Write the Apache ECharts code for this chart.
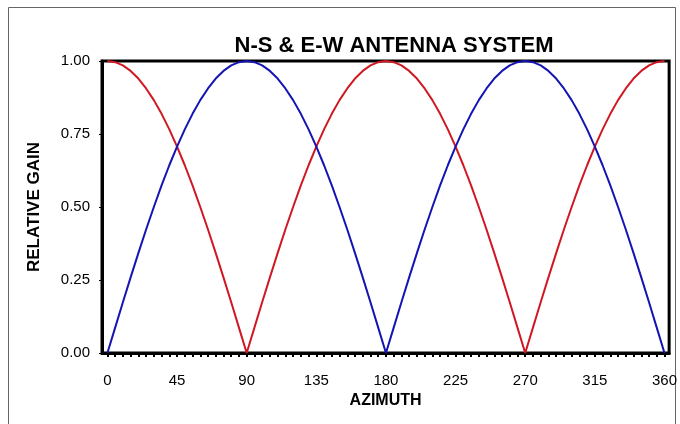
<!DOCTYPE html>
<html>
<head>
<meta charset="utf-8">
<script src="https://cdn.jsdelivr.net/npm/echarts@6/dist/echarts.min.js"></script>
<style>
  html, body { margin: 0; padding: 0; background: #fff; }
  #chart { width: 680px; height: 424px; }
</style>
</head>
<body>
<div id="chart"></div>
<script>
    // azimuth in degrees, every 5
    var azimuth = [0, 5, 10, 15, 20, 25, 30, 35, 40, 45, 50, 55, 60, 65, 70, 75, 80, 85, 90,
        95, 100, 105, 110, 115, 120, 125, 130, 135, 140, 145, 150, 155, 160, 165, 170, 175, 180,
        185, 190, 195, 200, 205, 210, 215, 220, 225, 230, 235, 240, 245, 250, 255, 260, 265, 270,
        275, 280, 285, 290, 295, 300, 305, 310, 315, 320, 325, 330, 335, 340, 345, 350, 355, 360]
    // N-S antenna (red)
    var nsGain = [1.000, 0.996, 0.985, 0.966, 0.940, 0.906, 0.866, 0.819, 0.766, 0.707, 0.643, 0.574, 0.500, 0.423, 0.342, 0.259, 0.174, 0.087, 0.000,
        0.087, 0.174, 0.259, 0.342, 0.423, 0.500, 0.574, 0.643, 0.707, 0.766, 0.819, 0.866, 0.906, 0.940, 0.966, 0.985, 0.996, 1.000,
        0.996, 0.985, 0.966, 0.940, 0.906, 0.866, 0.819, 0.766, 0.707, 0.643, 0.574, 0.500, 0.423, 0.342, 0.259, 0.174, 0.087, 0.000,
        0.087, 0.174, 0.259, 0.342, 0.423, 0.500, 0.574, 0.643, 0.707, 0.766, 0.819, 0.866, 0.906, 0.940, 0.966, 0.985, 0.996, 1.000]
    // E-W antenna (blue)
    var ewGain = [0.000, 0.087, 0.174, 0.259, 0.342, 0.423, 0.500, 0.574, 0.643, 0.707, 0.766, 0.819, 0.866, 0.906, 0.940, 0.966, 0.985, 0.996, 1.000,
        0.996, 0.985, 0.966, 0.940, 0.906, 0.866, 0.819, 0.766, 0.707, 0.643, 0.574, 0.500, 0.423, 0.342, 0.259, 0.174, 0.087, 0.000,
        0.087, 0.174, 0.259, 0.342, 0.423, 0.500, 0.574, 0.643, 0.707, 0.766, 0.819, 0.866, 0.906, 0.940, 0.966, 0.985, 0.996, 1.000,
        0.996, 0.985, 0.966, 0.940, 0.906, 0.866, 0.819, 0.766, 0.707, 0.643, 0.574, 0.500, 0.423, 0.342, 0.259, 0.174, 0.087, 0.000]
    var xLabels = [0, 45, 90, 135, 180, 225, 270, 315, 360]
    var yLabels = [0, 0.25, 0.5, 0.75, 1]

    var nsData = azimuth.map(function (a, i) { return [a, nsGain[i]] })
    var ewData = azimuth.map(function (a, i) { return [a, ewGain[i]] })

    var font = 'Liberation Sans, Arial, sans-serif'
    var chart = echarts.init(document.getElementById('chart'))
    chart.setOption({
        animation: false,
        backgroundColor: '#fff',
        graphic: [{
            type: 'rect',
            shape: {x: 8.5, y: 7.5, width: 667, height: 430},
            style: {fill: 'none', stroke: '#666', lineWidth: 1}
        }],
        title: {
            text: 'N-S & E-W ANTENNA SYSTEM',
            left: 389, top: 30, textAlign: 'center',
            textStyle: {fontFamily: font, fontSize: 22, fontWeight: 'bold', color: '#000'}
        },
        grid: {
            left: 102, right: 9, top: 61, bottom: 71,
            show: true, borderColor: '#000', borderWidth: 3, backgroundColor: '#fff'
        },
        xAxis: {
            type: 'value',
            min: -3.5, max: 363,
            name: 'AZIMUTH',
            nameLocation: 'middle',
            nameGap: 38,
            nameTextStyle: {fontFamily: font, fontSize: 16, fontWeight: 'bold', color: '#000'},
            axisLine: {show: true, onZero: false, lineStyle: {color: '#000', width: 3}},
            axisTick: {show: true, customValues: azimuth, length: 4, lineStyle: {color: '#000', width: 2}},
            axisLabel: {customValues: xLabels, fontFamily: font, fontSize: 15, color: '#000', margin: 20},
            splitLine: {show: false}
        },
        yAxis: {
            type: 'value',
            min: 0, max: 1, interval: 0.25,
            name: 'RELATIVE GAIN',
            nameLocation: 'middle',
            nameGap: 59,
            nameTextStyle: {fontFamily: font, fontSize: 17, fontWeight: 'bold', color: '#000'},
            axisLine: {show: true, onZero: false, lineStyle: {color: '#000', width: 3}},
            axisTick: {show: true, length: 3, lineStyle: {color: '#000', width: 1}},
            axisLabel: {
                fontFamily: font, fontSize: 15, color: '#000', margin: 12,
                formatter: function (v) { return v.toFixed(2) }
            },
            splitLine: {show: false}
        },
        series: [{
            name: 'N-S',
            type: 'line',
            data: nsData,
            showSymbol: false,
            lineStyle: {color: '#d01822', width: 2}
        }, {
            name: 'E-W',
            type: 'line',
            data: ewData,
            showSymbol: false,
            lineStyle: {color: '#1414b4', width: 2}
        }]
    })
</script>
</body>
</html>
